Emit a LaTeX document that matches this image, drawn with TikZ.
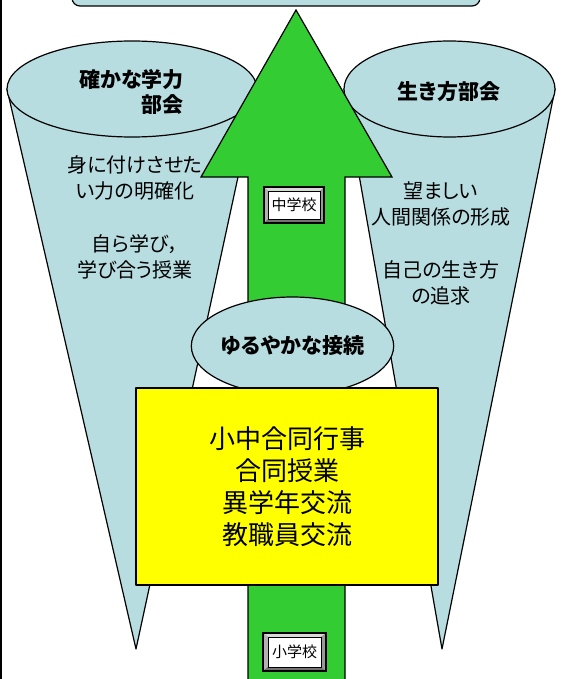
\documentclass[tikz,border=0pt]{standalone}
\usepackage{fontspec}
\setmainfont[RawFeature=+palt]{Noto Sans CJK JP}
\usetikzlibrary{shapes.geometric,calc}
\definecolor{conefill}{RGB}{183,221,224}
\definecolor{arrowgreen}{RGB}{51,204,51}
\definecolor{boxyellow}{RGB}{255,255,0}
\newcommand\mybevel[6]{%
  \fill[black!15] (#1-#3,#2-#4) -- (#1+#3,#2-#4) -- (#1+#5,#2-#6) -- (#1-#5,#2-#6) -- cycle;
  \fill[black!30] (#1-#3,#2-#4) -- (#1-#5,#2-#6) -- (#1-#5,#2+#6) -- (#1-#3,#2+#4) -- cycle;
  \fill[black!55] (#1-#3,#2+#4) -- (#1+#3,#2+#4) -- (#1+#5,#2+#6) -- (#1-#5,#2+#6) -- cycle;
  \fill[black!40] (#1+#3,#2-#4) -- (#1+#5,#2-#6) -- (#1+#5,#2+#6) -- (#1+#3,#2+#4) -- cycle;
  \draw[line width=1.2pt] (#1-#3,#2-#4) rectangle (#1+#3,#2+#4);
}
\tikzset{
  outline/.style={draw=black, line width=1.2pt, line join=round},
  cone/.style={outline, fill=conefill},
  headtext/.style={font=\bfseries\fontsize{21}{25}\selectfont, inner sep=0pt},
  bodytext/.style={font=\fontsize{20}{26}\selectfont, align=center, inner sep=0pt},
  schoollabel/.style={draw=black, line width=0.6pt, fill=white, minimum width=52pt,
    minimum height=28pt, inner sep=0pt, font=\fontsize{15}{15}\selectfont},
}
\begin{document}
\begin{tikzpicture}[x=1pt, y=-1pt]
\useasboundingbox (0,0) rectangle (570,679);
% left frame line
\draw[line width=1.5pt] (0.75,0) -- (0.75,679);
% top box
\draw[outline, fill=conefill, rounded corners=8pt] (72,-30) rectangle (480,6);
% left cone
\draw[cone] (7,89) -- (136,649) -- (257,89) -- cycle;
\draw[cone] (132,89) ellipse [x radius=125, y radius=48];
% right cone
\draw[cone] (344,89) -- (442,649) -- (555,89) -- cycle;
\draw[cone] (449.5,89) ellipse [x radius=105.5, y radius=48];
% cone texts
\node[headtext, align=right, anchor=east] (lhead) at (184,92) {確かな学力\\部会};
\node[headtext] (rhead) at (449,92) {生き方部会};
\node[bodytext] (lb1) at (135,178) {身に付けさせた\\い力の明確化};
\node[bodytext] (lb2) at (135,257) {自ら学び，\\学び合う授業};
\node[bodytext] (rb1) at (441,204) {望ましい\\人間関係の形成};
\node[bodytext] (rb2) at (441,283) {自己の生き方\\の追求};
% green arrow
\draw[outline, fill=arrowgreen, line join=miter]
  (248,690) -- (248,177) -- (201,177) -- (296,10) -- (392,177) -- (345,177) -- (345,690);
% school labels
\mybevel{294}{205}{30}{18}{26}{14}
\node[schoollabel] (jhs) at (294,205) {中学校};
\mybevel{294.5}{652}{31.5}{19}{26.5}{15}
\node[schoollabel, minimum width=53pt, minimum height=30pt] (ps) at (294.5,652) {小学校};
% connection ellipse
\node[ellipse, outline, fill=conefill, minimum width=193pt, minimum height=98pt,
  inner sep=0pt, font=\bfseries\fontsize{21}{21}\selectfont] (conn) at (292.5,346) {ゆるやかな接続};
% yellow activities box
\node[outline, fill=boxyellow, minimum width=302pt, minimum height=197pt, align=center,
  font=\fontsize{26}{32}\selectfont] (act) at (287,486.5) {小中合同行事\\合同授業\\異学年交流\\教職員交流};
\end{tikzpicture}
\end{document}
